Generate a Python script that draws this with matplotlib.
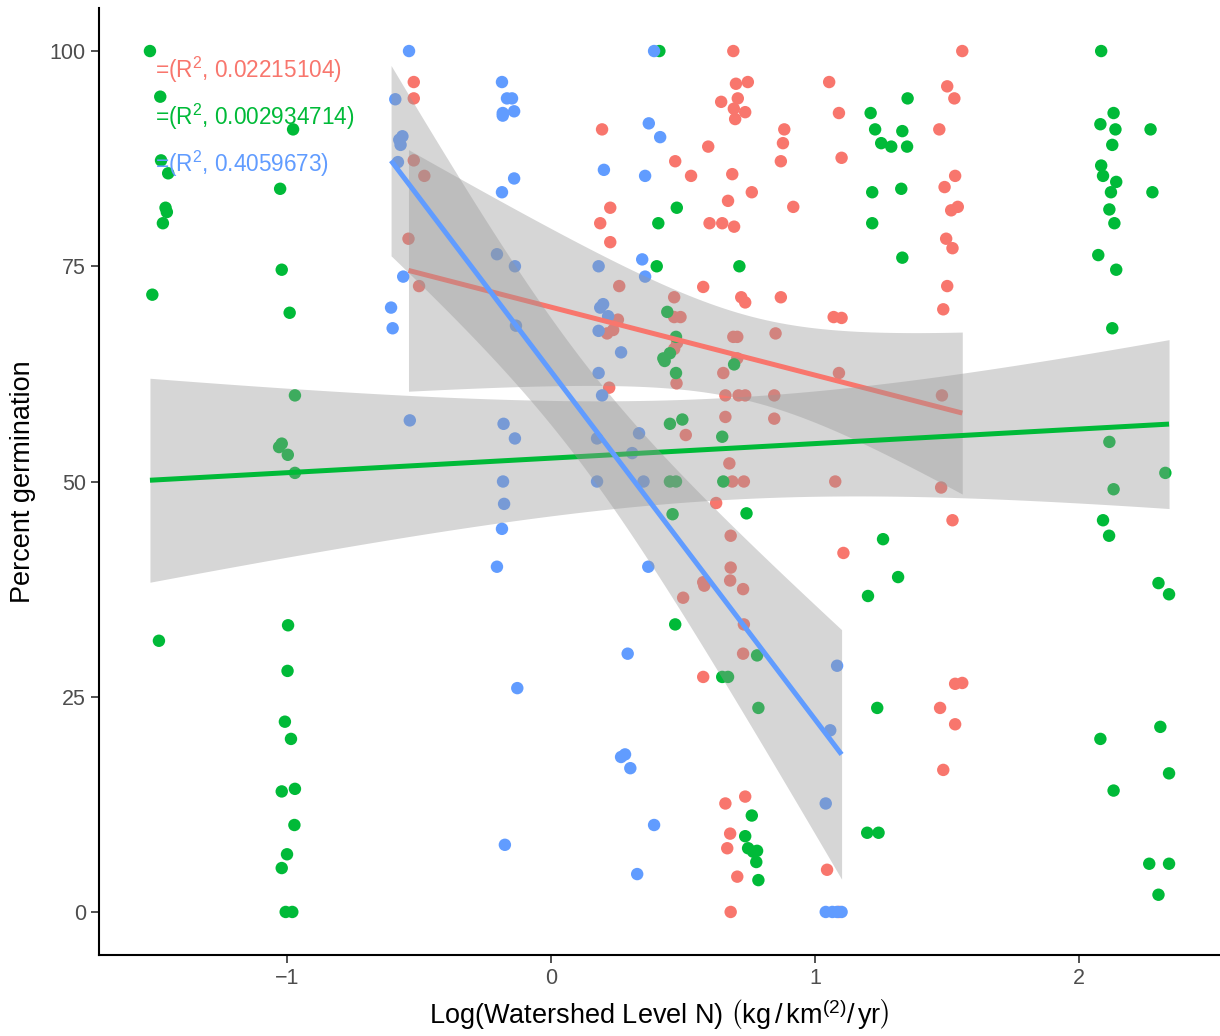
import matplotlib
matplotlib.use('Agg')
import matplotlib.pyplot as plt
import numpy as np

plt.rcParams['font.family'] = ['Liberation Sans', 'DejaVu Sans']
plt.rcParams['mathtext.fontset'] = 'custom'
plt.rcParams['mathtext.rm'] = 'Liberation Sans'
plt.rcParams['mathtext.it'] = 'Liberation Sans:italic'

# ---------------------------------
# germination (%) against log watershed N, one list per group
red_x = [-0.52, -0.52, -0.52, -0.48, -0.54, -0.50,
         0.193, 0.224, 0.186, 0.224, 0.258, 0.22, 0.253, 0.235, 0.212,
         0.644, 0.595, 0.47, 0.53, 0.60, 0.648, 0.576, 0.466, 0.466, 0.49, 0.477, 0.466, 0.475, 0.51,
         0.69, 0.70, 0.745, 0.707, 0.692, 0.735, 0.697, 0.883, 0.878, 0.87, 0.686, 0.76, 0.67, 0.917,
         0.693, 0.72, 0.735, 0.87, 1.07, 1.10, 0.69, 0.705, 0.85, 0.705, 0.652, 1.09, 0.66, 0.71,
         0.735, 0.845, 1.48, 0.66, 0.845, 0.675, 0.686, 0.73, 1.076, 1.477,
         1.053, 1.09, 1.10,
         1.557, 1.50, 1.527, 1.47, 1.53, 1.49, 1.54, 1.515, 1.496, 1.52, 1.50, 1.485,
         0.625, 0.68, 0.68, 0.576, 0.58, 0.678, 0.727, 0.73, 0.727, 0.576, 0.50,
         1.107, 1.52, 1.53, 1.557, 1.473, 1.53, 1.485,
         0.66, 0.735, 0.678, 0.667, 0.705, 0.68, 1.045, 1.09]
red_y = [96.4, 94.5, 87.3, 85.5, 78.2, 72.7,
         90.9, 81.8, 80.0, 77.8, 72.7, 60.9, 68.8, 67.6, 67.2,
         94.1, 88.9, 87.2, 85.5, 80.0, 80.0, 72.6, 71.4, 69.1, 69.1, 66.1, 65.4, 61.4, 55.4,
         100.0, 96.2, 96.4, 94.5, 93.3, 92.9, 92.1, 90.9, 89.3, 87.2, 85.7, 83.6, 82.6, 81.9,
         79.6, 71.4, 70.8, 71.4, 69.1, 69.0, 66.8, 66.8, 67.2, 64.3, 62.6, 62.6, 60.0, 60.0,
         60.0, 60.0, 60.0, 57.5, 57.3, 52.1, 50.0, 50.0, 50.0, 49.3,
         96.4, 92.8, 87.6,
         100.0, 95.9, 94.5, 90.9, 85.5, 84.2, 81.9, 81.5, 78.2, 77.1, 72.7, 70.0,
         47.5, 43.7, 40.0, 38.3, 37.9, 38.5, 37.5, 33.4, 30.0, 27.3, 36.5,
         41.7, 45.5, 26.5, 26.6, 23.7, 21.8, 16.5,
         12.6, 13.4, 9.1, 7.4, 4.1, 0.0, 4.9, 0.0]

green_x = [-1.519, -1.48, -1.477, -1.45, -1.46, -1.455, -1.47, -1.51, -1.485,
           -0.977, -1.026, -1.02, -0.99, -0.97, -1.02, -1.03, -0.997, -0.97, -0.996, -0.998,
           -1.008, -0.985, -1.02, -0.97, -0.972, -1.0, -1.02, -1.005, -0.98,
           0.41, 0.476, 0.406, 0.40, 0.44, 0.473, 0.45, 0.425, 0.43, 0.473, 0.45, 0.497,
           0.45, 0.473, 0.46, 0.47,
           0.713, 0.693, 0.648, 0.652, 0.74, 0.648, 0.67, 0.78, 0.785, 0.76, 0.735, 0.746,
           0.78, 0.765, 0.777, 0.785,
           1.35, 1.21, 1.227, 1.33, 1.25, 1.288, 1.348, 1.216, 1.326, 1.216, 1.33, 1.257,
           1.314, 1.20, 1.235, 1.197, 1.24,
           2.083, 2.13, 2.08, 2.137, 2.27, 2.125, 2.083, 2.09, 2.14, 2.12, 2.277, 2.114,
           2.133, 2.072, 2.14, 2.125, 2.114, 2.326, 2.13, 2.09, 2.113, 2.30, 2.34, 2.307,
           2.08, 2.34, 2.13, 2.265, 2.34, 2.30]
green_y = [100.0, 94.7, 87.3, 85.8, 81.8, 81.3, 80.0, 71.7, 31.5,
           90.9, 84.0, 74.6, 69.6, 60.0, 54.4, 54.0, 53.1, 51.0, 33.3, 28.0,
           22.1, 20.1, 14.0, 14.3, 10.1, 6.7, 5.1, 0.0, 0.0,
           100.0, 81.8, 80.0, 75.0, 69.7, 66.8, 64.9, 64.3, 64.0, 62.6, 56.7, 57.2,
           50.0, 50.0, 46.2, 33.4,
           75.0, 63.6, 55.2, 50.0, 46.3, 27.3, 27.3, 29.8, 23.7, 11.2, 8.8, 7.4,
           7.1, 7.0, 5.8, 3.7,
           94.5, 92.8, 90.9, 90.7, 89.3, 88.9, 88.9, 83.6, 84.0, 80.0, 76.0, 43.3,
           38.9, 36.7, 23.7, 9.2, 9.2,
           100.0, 92.8, 91.5, 90.9, 90.9, 89.1, 86.7, 85.5, 84.8, 83.6, 83.6, 81.6,
           80.0, 76.3, 74.6, 67.8, 54.6, 51.0, 49.1, 45.5, 43.7, 38.2, 36.9, 21.5,
           20.1, 16.1, 14.1, 5.6, 5.6, 2.0]

blue_x = [-0.538, -0.59, -0.563, -0.575, -0.57, -0.58, -0.56, -0.606, -0.60, -0.535,
          -0.186, -0.167, -0.148, -0.183, -0.183, -0.14, -0.14, -0.186, -0.205, -0.137,
          -0.133, -0.18, -0.137, -0.182, -0.178, -0.186, -0.205, -0.128, -0.175,
          0.39, 0.37, 0.413, 0.20, 0.356, 0.345, 0.356, 0.18, 0.197, 0.186, 0.216, 0.18,
          0.265, 0.18, 0.193, 0.174, 0.333, 0.307, 0.174, 0.35, 0.368, 0.29, 0.265, 0.28,
          0.30, 0.39, 0.326,
          1.083, 1.057, 1.04, 1.04, 1.065, 1.083, 1.10]
blue_y = [100.0, 94.4, 90.1, 89.7, 89.1, 87.1, 73.8, 70.2, 67.8, 57.1,
          96.4, 94.5, 94.5, 92.8, 92.5, 93.0, 85.2, 83.6, 76.4, 75.0,
          68.1, 56.7, 55.0, 50.0, 47.4, 44.5, 40.1, 26.0, 7.8,
          100.0, 91.6, 90.0, 86.2, 85.5, 75.8, 73.8, 75.0, 70.6, 70.2, 69.2, 67.5,
          65.0, 62.6, 60.0, 55.0, 55.6, 53.3, 50.0, 50.0, 40.1, 30.0, 18.0, 18.3,
          16.7, 10.1, 4.4,
          28.6, 21.1, 12.6, 0.0, 0.0, 0.0, 0.0]

r2_labels = ['0.02215104', '0.002934714', '0.4059673']
colors = ['#F8766D', '#00BA38', '#619CFF']


def t975(df):
    # Cornish-Fisher approximation of the 97.5% t quantile
    z = 1.959964
    return z + (z**3 + z) / (4 * df) + (5 * z**5 + 16 * z**3 + 3 * z) / (96 * df**2)


def lm_band(x, y, n_grid=80):
    x = np.asarray(x, float)
    y = np.asarray(y, float)
    n = len(x)
    slope, icpt = np.polyfit(x, y, 1)
    resid = y - (icpt + slope * x)
    s = np.sqrt(np.sum(resid**2) / (n - 2))
    sxx = np.sum((x - x.mean())**2)
    xs = np.linspace(x.min(), x.max(), n_grid)
    fit = icpt + slope * xs
    se = s * np.sqrt(1.0 / n + (xs - x.mean())**2 / sxx)
    t = t975(n - 2)
    return xs, fit, fit - t * se, fit + t * se


fig = plt.figure(figsize=(12.2, 10.36), dpi=100)
ax = fig.add_axes([99 / 1220, 81 / 1036, 1121 / 1220, 947 / 1036])

groups = [(red_x, red_y), (green_x, green_y), (blue_x, blue_y)]

for (gx, gy), c in zip(groups, colors):
    ax.scatter(gx, gy, s=80, color=c, edgecolors='none', zorder=2)

# ribbon + fitted line per group, later groups drawn on top
z = 3
for (gx, gy), c in zip(groups, colors):
    xs, fit, lo, hi = lm_band(gx, gy)
    ax.fill_between(xs, lo, hi, color='#999999', alpha=0.4, linewidth=0, zorder=z)
    ax.plot(xs, fit, color=c, linewidth=3.6, solid_capstyle='butt', zorder=z + 0.5)
    z += 1

for lab, c, yy in zip(r2_labels, colors, [97.8, 92.4, 86.9]):
    ax.text(-1.5, yy, '=(R$^{2}$, ' + lab + ')', color=c, fontsize=16.3,
            ha='left', va='center', zorder=10)

allx = red_x + green_x + blue_x
pad = 0.05 * (max(allx) - min(allx))
ax.set_xlim(min(allx) - pad, max(allx) + pad)
ax.set_ylim(-5, 105)
ax.set_xticks([-1, 0, 1, 2])
ax.set_xticklabels(['\u22121', '0', '1', '2'])
ax.set_yticks([0, 25, 50, 75, 100])

for side in ['top', 'right']:
    ax.spines[side].set_visible(False)
for side in ['left', 'bottom']:
    ax.spines[side].set_linewidth(1.5)
    ax.spines[side].set_color('black')
ax.tick_params(axis='both', length=5.5, width=1.2, color='#333333',
               labelsize=15.5, labelcolor='#4D4D4D', pad=4)

ax.set_xlabel(r'Log(Watershed Level N) $\left(\mathrm{kg\,/\,km^{(2)}/\,yr}\right)$',
              fontsize=19.5, color='black', labelpad=6)
ax.set_ylabel('Percent germination', fontsize=19.5, color='black', labelpad=10)

fig.savefig('out.png', dpi=100)
